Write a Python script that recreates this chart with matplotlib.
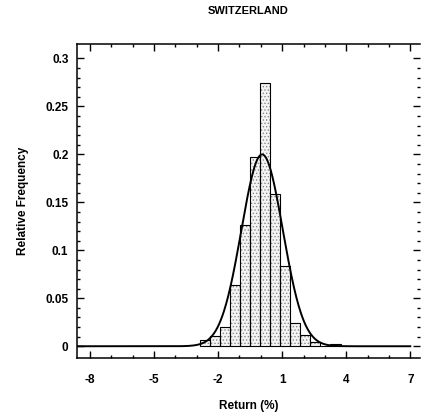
import numpy as np
import matplotlib
matplotlib.use("Agg")
import matplotlib.pyplot as plt

plt.rcParams['font.family'] = ['Liberation Sans', 'DejaVu Sans']
plt.rcParams['hatch.linewidth'] = 0.6
plt.rcParams['axes.unicode_minus'] = False

# histogram of daily returns (relative frequency per bin)
bin_width = 0.472
bin_left = [-2.87, -2.40, -1.93, -1.46, -0.98, -0.51, -0.04, 0.43, 0.90, 1.37, 1.85, 2.32, 2.79, 3.26]
rel_freq = [0.007, 0.011, 0.020, 0.064, 0.126, 0.197, 0.274, 0.159, 0.084, 0.024, 0.012, 0.004, 0.0005, 0.002]

# fitted normal curve
fit_mean = 0.06
fit_std = 0.97
fit_peak = 0.200

x_ticks = [-8, -5, -2, 1, 4, 7]
y_ticks = [0, 0.05, 0.1, 0.15, 0.2, 0.25, 0.3]
y_labels = ['0', '0.05', '0.1', '0.15', '0.2', '0.25', '0.3']

fig = plt.figure(figsize=(4.22, 4.16), dpi=100)
ax = fig.add_axes([0.182, 0.140, 0.813, 0.754])

# stippled bars, then outlines
ax.bar(bin_left, rel_freq, width=bin_width, align='edge', color='#f4f4f4',
       edgecolor='#8a8a8a', hatch='.....', linewidth=0)
ax.bar(bin_left, rel_freq, width=bin_width, align='edge', fill=False,
       edgecolor='black', linewidth=0.8)

xs = np.linspace(-8.6, 7.0, 600)
ys = fit_peak * np.exp(-0.5 * ((xs - fit_mean) / fit_std) ** 2)
ax.plot(xs, ys, color='black', lw=1.4)

ax.set_xlim(-8.62, 7.45)
ax.set_ylim(-0.012, 0.315)
ax.set_xticks(x_ticks)
ax.set_xticks(range(-8, 8), minor=True)
ax.set_yticks(y_ticks)
ax.set_yticklabels(y_labels)
ax.set_yticks(np.arange(0, 0.31, 0.01), minor=True)

ax.tick_params(which='both', direction='in', top=True, right=True, width=1.0,
               labelsize=8.5, pad=6)
ax.tick_params(axis='x', pad=12)
ax.tick_params(which='major', length=5)
ax.tick_params(which='minor', length=2.5)
for lab in ax.get_xticklabels() + ax.get_yticklabels():
    lab.set_fontweight('bold')

for s in ['left', 'bottom', 'top']:
    ax.spines[s].set_linewidth(1.1)
ax.spines['right'].set_visible(False)

ax.set_title('SWITZERLAND', fontsize=8, fontweight='bold', pad=22)
ax.set_xlabel('Return (%)', fontsize=8.5, fontweight='bold', labelpad=10)
ax.set_ylabel('Relative Frequency', fontsize=8.5, fontweight='bold', labelpad=12)

fig.savefig('out.png', dpi=100)
